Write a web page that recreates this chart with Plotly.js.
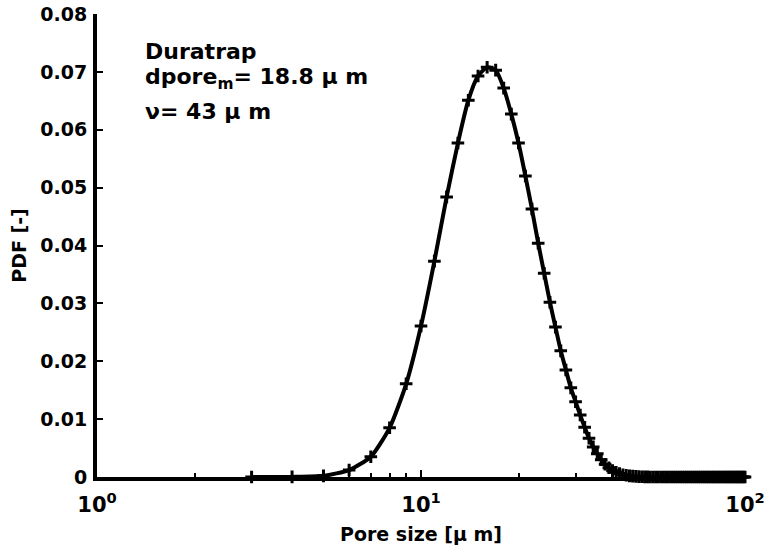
<!DOCTYPE html>
<html>
<head>
<meta charset="utf-8">
<script src="https://cdn.plot.ly/plotly-3.0.1.min.js"></script>
<style>html,body{margin:0;padding:0;background:#fff;}</style>
</head>
<body>
<div id="chart" style="width:767px;height:550px;"></div>
<script>
// Pore size [µm] (integer sizes)
const poreSize = [3,4,5,6,7,8,9,10,11,12,13,14,15,16,17,18,19,20,21,22,23,24,25,26,27,28,29,30,
  31,32,33,34,35,36,37,38,39,40,41,42,43,44,45,46,47,48,49,50,51,52,53,54,55,56,57,58,59,60,
  61,62,63,64,65,66,67,68,69,70,71,72,73,74,75,76,77,78,79,80,81,82,83,84,85,86,87,88,89,90,
  91,92,93,94,95,96,97,98,99,100];
// PDF [-]
const pdf = [0,0.00002,0.0002,0.0012,0.0035,0.0085,0.0161,0.0261,0.0373,0.0484,0.0577,0.0651,0.0693,0.0708,
  0.0703,0.0672,0.0627,0.0577,0.0520,0.0463,0.0404,0.0352,0.0302,0.0259,0.0218,0.0185,0.0154,0.0130,
  0.0107,0.0086,0.0067,0.0052,0.0040,0.0030,0.0022,0.0016,0.0011,0.0008,0.0006,0.0004,0.0003,0.0002,
  0.00015,0.0001,0.00007,0.00005,0.00003,0.00002,0.00001,0.00001,0,0,0,0,0,0,0,0,
  0,0,0,0,0,0,0,0,0,0,0,0,0,0,0,0,0,0,0,0,0,0,0,0,0,0,0,0,0,0,
  0,0,0,0,0,0,0,0,0,0];

const xTickVals = [1, 10, 100];
const xTickText = ['10<sup>0</sup>', '10<sup>1</sup>', '10<sup>2</sup>'];
const xMinorVals = [2,3,4,5,6,7,8,9,20,30,40,50,60,70,80,90];
const labelLines = ['Duratrap', 'dpore<sub>m</sub>= 18.8 \u03bc m', '\u03bd= 43 \u03bc m'];

const fontFam = 'DejaVu Sans, Arial, sans-serif';

const traces = [{
  x: poreSize, y: pdf,
  type: 'scatter', mode: 'lines+markers',
  line: {color: 'black', width: 4, shape: 'spline', smoothing: 0.6},
  marker: {symbol: 'cross-thin', size: 9, color: 'black', line: {color: 'black', width: 3}},
  cliponaxis: false,
  showlegend: false,
  hoverinfo: 'skip'
}];

const layout = {
  width: 767, height: 550,
  margin: {l: 97, r: 22, t: 14, b: 73},
  paper_bgcolor: 'white', plot_bgcolor: 'white',
  font: {family: fontFam, size: 19, color: 'black', weight: 'bold'},
  showlegend: false,
  xaxis: {
    type: 'log', range: [0, 2],
    tickmode: 'array', tickvals: xTickVals, ticktext: xTickText,
    ticks: 'inside', ticklen: 7, tickwidth: 2, tickcolor: 'black',
    ticklabelstandoff: 6,
    minor: {tickmode: 'array', tickvals: xMinorVals, ticks: 'inside', ticklen: 4, tickwidth: 2, tickcolor: 'black'},
    showline: true, linewidth: 4, linecolor: 'black',
    showgrid: false, zeroline: false,
    tickfont: {family: fontFam, size: 21, color: 'black', weight: 'bold'},
    title: {text: 'Pore size [\u03bc m]', font: {family: fontFam, size: 19, color: 'black', weight: 'bold'}, standoff: 12},
    automargin: false
  },
  yaxis: {
    range: [0, 0.08], dtick: 0.01, tick0: 0,
    ticks: 'inside', ticklen: 6, tickwidth: 2, tickcolor: 'black',
    ticklabelstandoff: 2,
    showline: true, linewidth: 4, linecolor: 'black',
    showgrid: false, zeroline: false,
    tickfont: {family: fontFam, size: 19, color: 'black', weight: 'bold'},
    title: {text: 'PDF [-]', font: {family: fontFam, size: 19, color: 'black', weight: 'bold'}, standoff: 10},
    automargin: false
  },
  annotations: [
    {text: labelLines[0], xref: 'paper', yref: 'paper', x: 0.071, y: 0.920, xanchor: 'left', yanchor: 'middle', showarrow: false,
     font: {family: fontFam, size: 22, color: 'black', weight: 'bold'}},
    {text: labelLines[1], xref: 'paper', yref: 'paper', x: 0.071, y: 0.860, xanchor: 'left', yanchor: 'middle', showarrow: false,
     font: {family: fontFam, size: 22, color: 'black', weight: 'bold'}},
    {text: labelLines[2], xref: 'paper', yref: 'paper', x: 0.071, y: 0.790, xanchor: 'left', yanchor: 'middle', showarrow: false,
     font: {family: fontFam, size: 22, color: 'black', weight: 'bold'}}
  ]
};

Plotly.newPlot('chart', traces, layout, {displayModeBar: false, staticPlot: true});
</script>
</body>
</html>
